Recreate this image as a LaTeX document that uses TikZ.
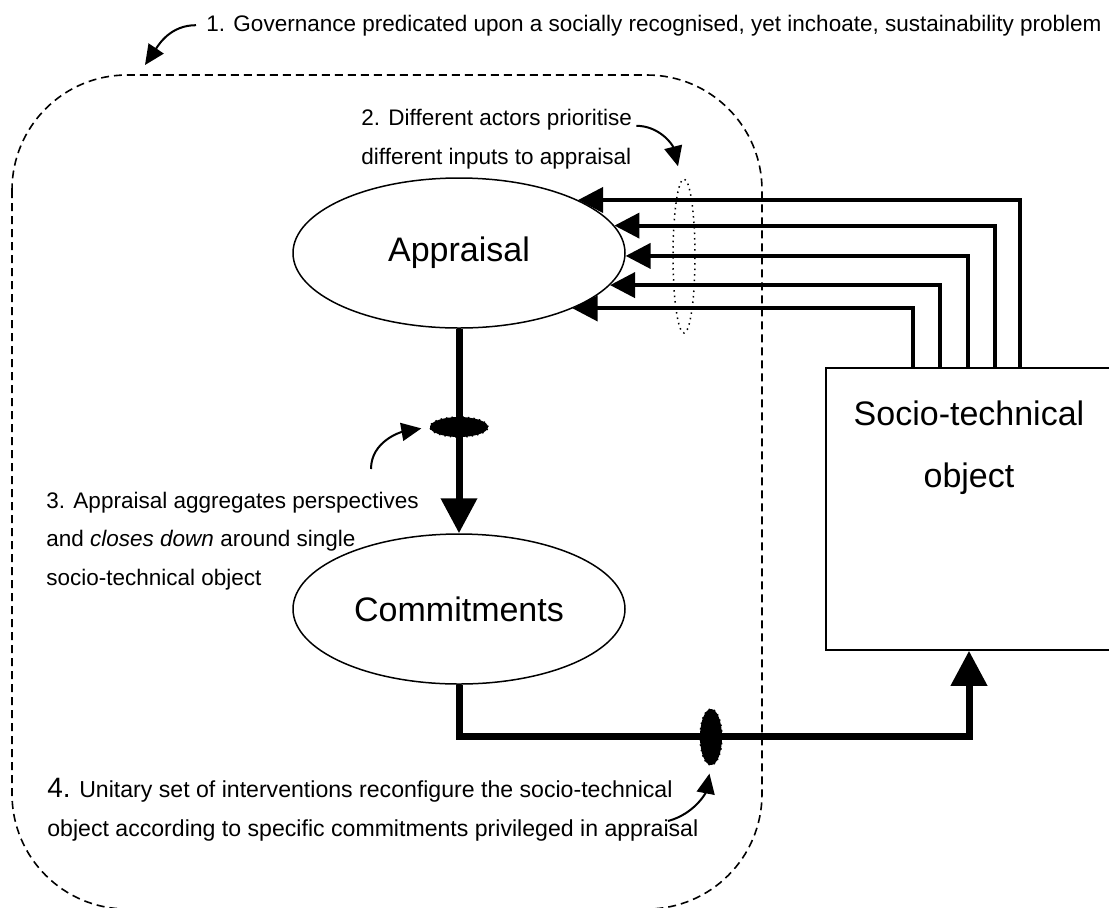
\documentclass[tikz,border=0pt]{standalone}
\usepackage{fontspec}
\setmainfont{Liberation Sans}
\usetikzlibrary{arrows.meta,positioning,shapes.geometric}

\tikzset{
  bubble/.style={ellipse,draw,line width=0.75pt,minimum width=166pt,minimum height=75pt,inner sep=0pt,font=\fontsize{17}{20}\selectfont},
  note/.style={align=left,inner sep=0pt,anchor=base west,font=\fontsize{11.25}{19.25}\selectfont},
  feed/.style={line width=2pt,-{Triangle[length=12.5pt,width=12.5pt]}},
  heavy/.style={line width=3.5pt,-{Triangle[length=17.5pt,width=17.5pt]}},
  pointer/.style={line width=1pt,-{Triangle[length=10pt,width=9pt]}},
  knotty/.style={ellipse,fill=black,draw,dotted,line width=0.75pt,inner sep=0pt},
}

\begin{document}
\begin{tikzpicture}[x=0.5pt,y=-0.5pt]
\useasboundingbox (0,0) rectangle (1109,907);
\clip (0,0) rectangle (1109,907);

% governance boundary
\draw[line width=0.8pt,dash pattern=on 4pt off 2.5pt,rounded corners=57.5pt] (12,75) rectangle (762,909);

\node[bubble] (app) at (459,253) {Appraisal};
\node[bubble] (commit) at (459,609) {Commitments};
\node[draw,line width=0.75pt,minimum width=143pt,minimum height=141pt,inner sep=0pt] (sto) at (969,509) {};
\node[align=center,inner sep=0pt,font=\fontsize{17}{31}\selectfont] (stotext) [below=16.5pt of sto.north] {Socio-technical\\object};

\foreach \x/\a in {913/334,940/348.4,968/359.7,995/10.3,1020/24.3}
  \draw[feed] (\x,0 |- sto.north) |- (app.\a);

\node[ellipse,draw,dotted,line width=0.75pt,minimum width=11pt,minimum height=77pt,inner sep=0pt] (inputs) at (684,256) {};

\draw[heavy] (app) -- (commit);
\draw[heavy] (commit.south) -- ++(0,52) -| (sto.south);

\node[knotty,minimum width=29pt,minimum height=10pt] (knot) at (459,427) {};
\node[knotty,minimum width=11pt,minimum height=28pt] (knot2) at (711,737) {};

% annotations
\node[note] (gov) at (206,31) {1. Governance predicated upon a socially recognised, yet inchoate, sustainability problem};
\node[note] (actors) at (361,164) {2. Different actors prioritise\\different inputs to appraisal};
\node[note] (closes) at (46,585) {3. Appraisal aggregates perspectives\\and \textit{closes down} around single\\socio-technical object};
\node[note,font=\fontsize{11.55}{19.25}\selectfont] (unitary) at (47,836) {{\fontsize{14}{19.25}\selectfont 4.} Unitary set of interventions reconfigure the socio-technical\\object according to specific commitments privileged in appraisal};

\coordinate (govtip) at (145,65);
\coordinate (closestail) at (371,469);
\coordinate (unitarytail) at (668,821);

\draw[pointer] ([xshift=-5pt]gov.west) to[out=180,in=56] (govtip);
\draw[pointer] ([xshift=2pt,yshift=-8.5pt]actors.north east) to[out=0,in=104] ([shift={(-3pt,6pt)}]inputs.north);
\draw[pointer,shorten >=4pt] (closestail) to[out=90,in=190] (knot.west);
\draw[pointer,shorten >=4pt] (unitarytail) to[out=15,in=-101] (knot2.south);
\end{tikzpicture}
\end{document}
